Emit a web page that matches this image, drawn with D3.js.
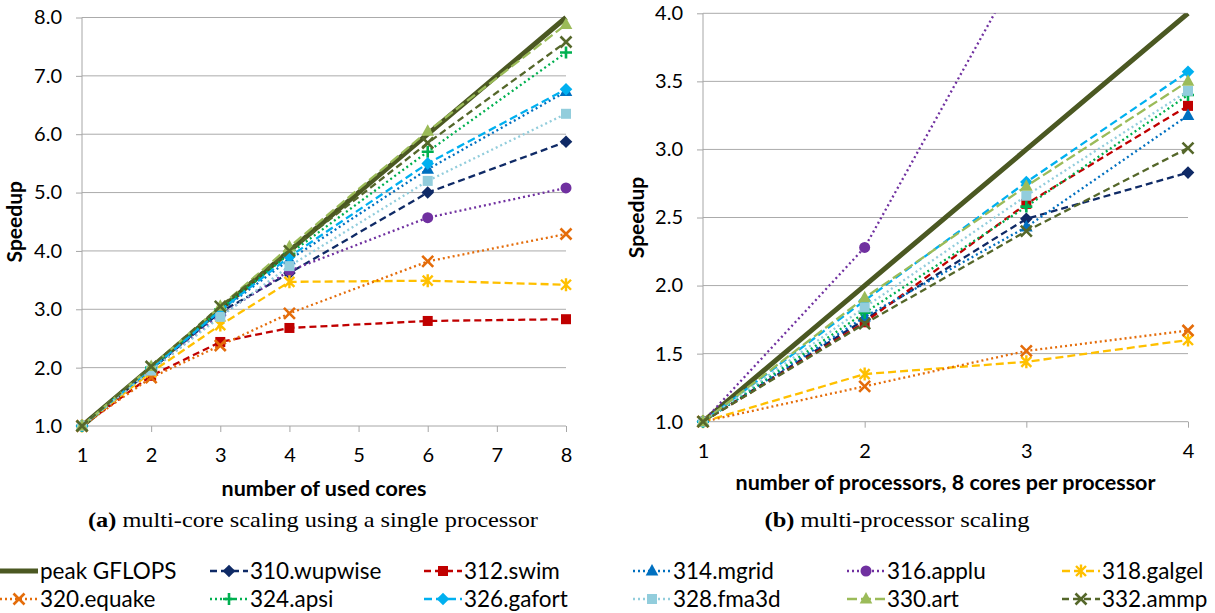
<!DOCTYPE html>
<head>
  <meta charset="utf-8">
  <script src="https://d3js.org/d3.v7.min.js"></script>
  <style>
    body { margin: 0; background: #fff; }
    text { font-family: Lato, "Open Sans", sans-serif; fill: #000; }
    .cap { font-family: "Liberation Serif", "DejaVu Serif", serif; }
  </style>
</head>

<body>
  <div class="chart"></div>

  <script>
    // ---- data ----
    var seriesNames = ["peak GFLOPS", "310.wupwise", "312.swim", "314.mgrid", "316.applu", "318.galgel",
                       "320.equake", "324.apsi", "326.gafort", "328.fma3d", "330.art", "332.ammp"];

    var coresX = [1, 2, 3, 4, 6, 8];
    var coresTicks = [1, 2, 3, 4, 5, 6, 7, 8];
    var coresYTicks = [1, 2, 3, 4, 5, 6, 7, 8];
    var coresValues = [
      [1, 2, 3, 4, 6, 8],
      [1, 1.97, 2.95, 3.62, 5.0, 5.87],
      [1, 1.86, 2.44, 2.68, 2.80, 2.83],
      [1, 1.98, 2.97, 3.85, 5.40, 6.73],
      [1, 1.95, 2.90, 3.66, 4.57, 5.08],
      [1, 1.92, 2.73, 3.47, 3.49, 3.42],
      [1, 1.83, 2.38, 2.93, 3.82, 4.29],
      [1, 2.00, 3.00, 3.95, 5.70, 7.40],
      [1, 1.98, 2.98, 3.90, 5.50, 6.77],
      [1, 1.95, 2.87, 3.74, 5.20, 6.35],
      [1, 2.02, 3.05, 4.07, 6.05, 7.88],
      [1, 2.02, 3.05, 4.00, 5.85, 7.58]
    ];

    var procX = [1, 2, 3, 4];
    var procTicks = [1, 2, 3, 4];
    var procYTicks = [1, 1.5, 2, 2.5, 3, 3.5, 4];
    var procValues = [
      [1, 2, 3, 4],
      [1, 1.75, 2.49, 2.83],
      [1, 1.73, 2.60, 3.32],
      [1, 1.77, 2.43, 3.25],
      [1, 2.28, 4.42, null],
      [1, 1.35, 1.44, 1.60],
      [1, 1.26, 1.52, 1.67],
      [1, 1.80, 2.58, 3.40],
      [1, 1.89, 2.76, 3.57],
      [1, 1.84, 2.66, 3.43],
      [1, 1.91, 2.73, 3.50],
      [1, 1.72, 2.40, 3.01]
    ];

    // ---- styles ----
    var colors = ["#4b5822", "#0f2a66", "#c00000", "#0070c0", "#7030a0", "#ffc000",
                  "#e46c0a", "#00b050", "#00b0f0", "#92cddc", "#9bbb59", "#55672a"];
    var dashes = [null, "7,4", "7,4", "2,3", "2,3", "8,4", "2,3", "2,3", "8,4", "2,3", "10,4", "7,4"];
    var markers = ["none", "diamond", "square", "triangle", "circle", "star", "x", "plus",
                   "diamond", "square", "triangle", "x"];

    var svg = d3.select(".chart").append("svg")
      .attr("width", 1215).attr("height", 613);

    svg.append("defs").append("clipPath").attr("id", "clipTop")
      .append("rect").attr("x", 0).attr("y", 13.3).attr("width", 1215).attr("height", 600);

    function drawMarker(g, type, c) {
      if (type == "diamond") {
        g.append("path").attr("d", "M0,-6.3L6.3,0L0,6.3L-6.3,0Z").attr("fill", c);
      } else if (type == "square") {
        g.append("rect").attr("x", -5).attr("y", -5).attr("width", 10).attr("height", 10).attr("fill", c);
      } else if (type == "triangle") {
        g.append("path").attr("d", "M0,-7L6.3,4.5L-6.3,4.5Z").attr("fill", c);
      } else if (type == "circle") {
        g.append("circle").attr("r", 5.5).attr("fill", c);
      } else if (type == "x") {
        g.append("path").attr("d", "M-5.5,-5.5L5.5,5.5M-5.5,5.5L5.5,-5.5")
          .attr("stroke", c).attr("stroke-width", 2.6).attr("fill", "none");
      } else if (type == "plus") {
        g.append("path").attr("d", "M-6,0L6,0M0,-6L0,6")
          .attr("stroke", c).attr("stroke-width", 2.6).attr("fill", "none");
      } else if (type == "star") {
        g.append("path").attr("d", "M-5,-5L5,5M-5,5L5,-5M0,-6.5L0,6.5")
          .attr("stroke", c).attr("stroke-width", 2.4).attr("fill", "none");
      }
    }

    function drawChart(opt) {
      var x = d3.scaleLinear().domain(opt.xDomain).range(opt.xRange);
      var y = d3.scaleLinear().domain(opt.yDomain).range(opt.yRange);

      var g = svg.append("g");

      // grid lines
      g.selectAll(".grid").data(opt.yTicks.slice(1)).enter().append("line")
        .attr("x1", opt.xRange[0]).attr("x2", opt.xRange[1])
        .attr("y1", function(d) { return y(d) }).attr("y2", function(d) { return y(d) })
        .attr("stroke", "#ababab").attr("stroke-width", 1);

      // y axis
      var yAxis = g.append("g").attr("transform", "translate(" + opt.xRange[0] + ",0)")
        .call(d3.axisLeft(y).tickValues(opt.yTicks).tickFormat(d3.format(".1f")).tickSize(6).tickPadding(14));
      // x axis
      var xAxis = g.append("g").attr("transform", "translate(0," + opt.yRange[0] + ")")
        .call(d3.axisBottom(x).tickValues(opt.xTicks).tickFormat(d3.format("d")).tickSize(6).tickPadding(16));

      [yAxis, xAxis].forEach(function(a) {
        a.select(".domain").attr("stroke", "#a6a6a6");
        a.selectAll(".tick line").attr("stroke", "#a6a6a6");
        a.selectAll(".tick text").style("font-size", "20px").attr("fill", "#000");
      });
      xAxis.select(".domain").attr("d", "M" + opt.xRange[0] + ",0H" + opt.xRange[1]);
      yAxis.select(".domain").attr("d", "M0," + opt.yRange[0] + "V" + opt.yRange[1]);

      // series
      var plot = g.append("g");
      if (opt.clip) plot.attr("clip-path", "url(#clipTop)");

      opt.values.forEach(function(vals, i) {
        var pts = vals.map(function(v, j) { return [opt.xs[j], v] });
        var line = d3.line()
          .defined(function(d) { return d[1] != null })
          .x(function(d) { return x(d[0]) })
          .y(function(d) { return y(d[1]) });
        plot.append("path").datum(pts)
          .attr("d", line)
          .attr("fill", "none")
          .attr("stroke", colors[i])
          .attr("stroke-width", i == 0 ? 5 : 2.3)
          .attr("stroke-dasharray", dashes[i]);
        pts.forEach(function(p) {
          if (p[1] == null) return;
          var m = plot.append("g").attr("transform", "translate(" + x(p[0]) + "," + y(p[1]) + ")");
          drawMarker(m, markers[i], colors[i]);
        });
      });

      // titles
      g.append("text")
        .attr("transform", "translate(" + opt.yTitleX + "," + (opt.yRange[0] + opt.yRange[1]) / 2 + ") rotate(-90)")
        .attr("text-anchor", "middle").attr("dy", "0.35em")
        .style("font-size", "21px").style("font-weight", "bold")
        .text("Speedup");
      g.append("text")
        .attr("x", (opt.xRange[0] + opt.xRange[1]) / 2).attr("y", opt.xTitleY)
        .attr("text-anchor", "middle").attr("dy", "0.35em")
        .style("font-size", "21.5px").style("font-weight", "bold")
        .text(opt.xTitle);

      var cap = g.append("text").attr("class", "cap")
        .attr("x", opt.capX).attr("y", 519).attr("dy", "0.35em")
        .attr("text-anchor", "middle").style("font-size", "22px")
        .attr("textLength", opt.capW).attr("lengthAdjust", "spacingAndGlyphs");
      cap.append("tspan").style("font-weight", "bold").text(opt.capLabel);
      cap.append("tspan").text(" " + opt.capText);
    }

    drawChart({
      xs: coresX, values: coresValues,
      xDomain: [1, 8], xRange: [82, 566],
      yDomain: [1, 8], yRange: [426, 17.5],
      xTicks: coresTicks, yTicks: coresYTicks,
      yTitleX: 15, xTitleY: 488, xTitle: "number of used cores",
      capX: 313, capW: 450, capLabel: "(a)", capText: "multi-core scaling using a single processor",
      clip: false
    });

    drawChart({
      xs: procX, values: procValues,
      xDomain: [1, 4], xRange: [703, 1188],
      yDomain: [1, 4], yRange: [421.7, 13.3],
      xTicks: procTicks, yTicks: procYTicks,
      yTitleX: 637, xTitleY: 482, xTitle: "number of processors, 8 cores per processor",
      capX: 897, capW: 265, capLabel: "(b)", capText: "multi-processor scaling",
      clip: true
    });

    // ---- legend ----
    var legendX = [0, 210, 424, 633, 847, 1062];
    var legendY = [571, 599];
    seriesNames.forEach(function(name, i) {
      var col = i % 6, row = Math.floor(i / 6);
      var lg = svg.append("g").attr("transform", "translate(" + legendX[col] + "," + legendY[row] + ")");
      lg.append("line").attr("x1", 0).attr("x2", 38).attr("y1", 0).attr("y2", 0)
        .attr("stroke", colors[i]).attr("stroke-width", i == 0 ? 5 : 2.3)
        .attr("stroke-dasharray", dashes[i]);
      var m = lg.append("g").attr("transform", "translate(19,0)");
      drawMarker(m, markers[i], colors[i]);
      lg.append("text").attr("x", 40).attr("y", 0).attr("dy", "0.35em")
        .style("font-size", "22.5px").text(name);
    });
  </script>
</body>
